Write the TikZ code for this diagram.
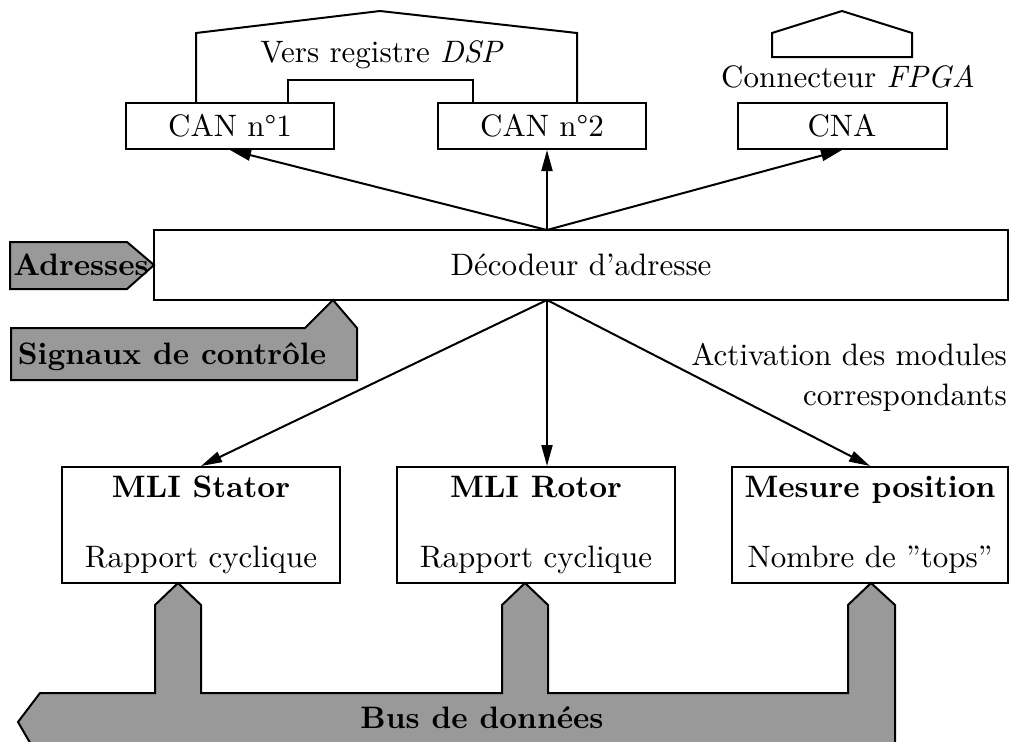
\documentclass[tikz,border=0pt]{standalone}
\usepackage{fontspec}
\setmainfont{lmroman10-regular.otf}[
  BoldFont=lmroman10-bold.otf,
  ItalicFont=lmroman10-italic.otf,
  BoldItalicFont=lmroman10-bolditalic.otf]
\usepackage{tikz}
\usetikzlibrary{arrows.meta}

\begin{document}
\begin{tikzpicture}[
      x=1pt, y=-1pt,
      every node/.style={font=\fontsize{31}{40}\selectfont},
      box/.style={draw, line width=2pt, inner sep=0pt, minimum height=46pt},
      module/.style={box, minimum height=116pt, align=center},
      bus/.style={draw, line width=2pt, fill=black!40, line join=miter},
      conn/.style={draw, line width=2pt},
      arr/.style={-{Triangle[length=21pt,width=11pt]}, line width=2pt},
      lbl/.style={font=\fontsize{31}{40}\selectfont\bfseries, inner sep=0pt},
    ]
    \useasboundingbox (0,0) rectangle (1013,742);
    \clip (0,0) rectangle (1013,742);

    %% Converters (top row)
    \node[box, minimum width=208pt] (can1) at (230,126) {CAN n°1};
    \node[box, minimum width=208pt] (can2) at (542,126) {CAN n°2};
    \node[box, minimum width=209pt] (cna)  at (842,126) {CNA};

    %% DSP connector
    \draw[conn] (196,103) -- (196,33) -- (380,11) -- (577,33) -- (577,103);
    \draw[conn] (288,103) -- (288,80) -- (473,80) -- (473,103);
    \node (dsp) at (382,55) {Vers registre \textit{DSP}};

    %% FPGA connector
    \draw[conn] (772,57) -- (772,33) -- (842,11) -- (912,33) -- (912,57) -- cycle;
    \node (fpga) at (848,77) {Connecteur \textit{FPGA}};

    %% Address decoder
    \node[box, minimum width=854pt, minimum height=70pt] (dec) at (581,265) {D\'ecodeur d'adresse};
    \coordinate (hub)  at (547,230);
    \coordinate (hubd) at (547,300);

    \draw[arr] (hub) -- (can1.south);
    \draw[arr] (hub) -- (hub |- can2.south);
    \draw[arr] (hub) -- (cna.south);

    %% Inputs to the decoder
    \draw[bus] (10,242) -- (127,242) -- (154,265) -- (127,289) -- (10,289) -- cycle;
    \node[lbl] (adr) at (81,265) {Adresses};
    \draw[bus] (11,328) -- (305,328) -- (333,300) -- (357,328) -- (357,380) -- (11,380) -- cycle;
    \node[lbl] (ctrl) at (172,357) {Signaux de contr\^ole};

    %% Modules (bottom row)
    \node[module, minimum width=278pt] (stator) at (201,525) {\textbf{MLI Stator}\\[30pt]Rapport cyclique};
    \node[module, minimum width=278pt] (rotor)  at (536,525) {\textbf{MLI Rotor}\\[30pt]Rapport cyclique};
    \node[module, minimum width=276pt] (mesure) at (870,525) {\textbf{Mesure position}\\[30pt]Nombre de ''tops''};

    \draw[arr] (hubd) -- (stator.north);
    \draw[arr] (hubd) -- (hubd |- rotor.north);
    \draw[arr] (hubd) -- (mesure.north);

    \node[align=right, anchor=north east, inner sep=0pt] (activ) at (1007,343)
      {Activation des modules\\correspondants};

    %% Data bus
    \draw[bus] (40,693) -- (155,693) -- (155,605) -- (178,583) -- (201,605) -- (201,693)
      -- (502,693) -- (502,605) -- (525,583) -- (548,605) -- (548,693)
      -- (848,693) -- (848,605) -- (871,583) -- (895,605) -- (895,760)
      -- (40,760) -- (18,722) -- cycle;
    \node[lbl] (busd) at (482,718) {Bus de donn\'ees};
  \end{tikzpicture}
\end{document}
